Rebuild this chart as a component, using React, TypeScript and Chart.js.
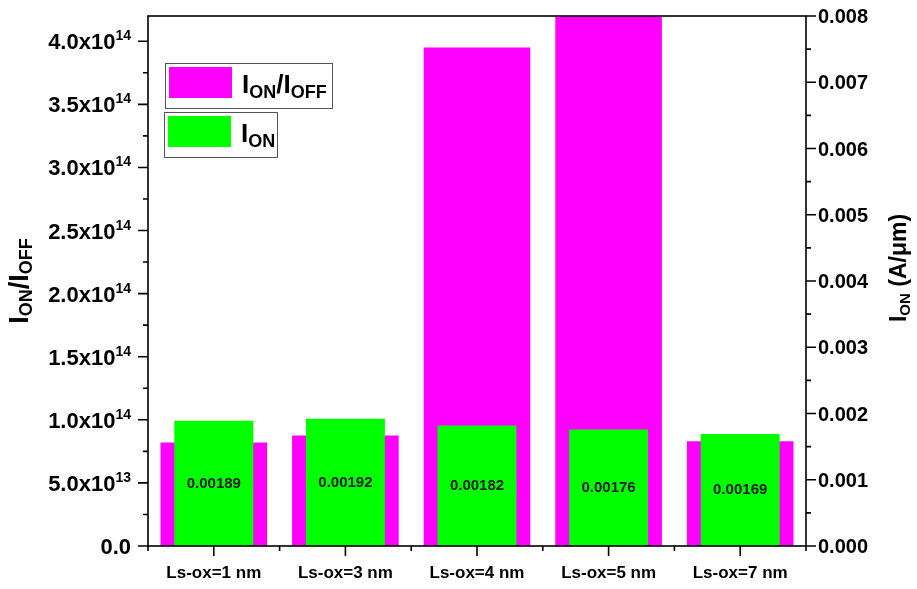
import React, { useEffect, useRef } from "react";
import { Chart, registerables } from "chart.js";

Chart.register(...registerables);

const categories = ["Ls-ox=1 nm", "Ls-ox=3 nm", "Ls-ox=4 nm", "Ls-ox=5 nm", "Ls-ox=7 nm"];
const ionIoffRatio = [8.2e13, 8.75e13, 3.95e14, 4.5e14, 8.3e13];
const ionCurrent = [0.00189, 0.00192, 0.00182, 0.00176, 0.00169];
const leftTicks = [0, 5e13, 1e14, 1.5e14, 2e14, 2.5e14, 3e14, 3.5e14, 4e14];
const rightTicks = [0, 0.001, 0.002, 0.003, 0.004, 0.005, 0.006, 0.007, 0.008];

const FAMILY = '"Liberation Sans", Arial, Helvetica, sans-serif';
const MAGENTA = "#ff00ff";
const GREEN = "#00ff00";

type Seg = { t: string; s: number; dy: number };

function drawRich(
  ctx: CanvasRenderingContext2D,
  segs: Seg[],
  x: number,
  y: number,
  align: "left" | "right" | "center",
  rot = 0,
  color = "#000"
) {
  ctx.save();
  ctx.translate(x, y);
  ctx.rotate(rot);
  ctx.fillStyle = color;
  ctx.textBaseline = "alphabetic";
  ctx.textAlign = "left";
  const widths = segs.map((sg) => {
    ctx.font = `bold ${sg.s}px ${FAMILY}`;
    return ctx.measureText(sg.t).width;
  });
  const total = widths.reduce((a, b) => a + b, 0);
  let cx = align === "right" ? -total : align === "center" ? -total / 2 : 0;
  segs.forEach((sg, i) => {
    ctx.font = `bold ${sg.s}px ${FAMILY}`;
    ctx.fillText(sg.t, cx, sg.dy);
    cx += widths[i];
  });
  ctx.restore();
}

function sciLabel(v: number): Seg[] {
  if (v === 0) return [{ t: "0.0", s: 22, dy: 0 }];
  const e = Math.floor(Math.log10(v) + 1e-9);
  const m = v / Math.pow(10, e);
  return [
    { t: m.toFixed(1) + "x10", s: 22, dy: 0 },
    { t: String(e), s: 14, dy: -9 },
  ];
}

const legendSegs: Seg[][] = [
  [
    { t: "I", s: 26, dy: 0 },
    { t: "ON", s: 18, dy: 5 },
    { t: "/I", s: 26, dy: 0 },
    { t: "OFF", s: 18, dy: 5 },
  ],
  [
    { t: "I", s: 26, dy: 0 },
    { t: "ON", s: 18, dy: 5 },
  ],
];

const overlayPlugin = {
  id: "overlay",
  afterDraw(chart: any) {
    const ctx: CanvasRenderingContext2D = chart.ctx;
    const area = chart.chartArea;
    const xs = chart.scales.x;
    const yl = chart.scales.y;
    const yr = chart.scales.y2;

    ctx.save();
    ctx.strokeStyle = "#000";
    ctx.lineWidth = 1.6;
    ctx.strokeRect(area.left, area.top, area.right - area.left, area.bottom - area.top);

    // left ticks
    ctx.beginPath();
    leftTicks.forEach((v, i) => {
      const py = yl.getPixelForValue(v);
      ctx.moveTo(area.left, py);
      ctx.lineTo(area.left - 10, py);
      if (i < leftTicks.length - 1) {
        const mv = (v + leftTicks[i + 1]) / 2;
        const my = yl.getPixelForValue(mv);
        ctx.moveTo(area.left, my);
        ctx.lineTo(area.left - 5, my);
      }
    });
    // right ticks
    rightTicks.forEach((v, i) => {
      const py = yr.getPixelForValue(v);
      ctx.moveTo(area.right, py);
      ctx.lineTo(area.right + 10, py);
      if (i < rightTicks.length - 1) {
        const mv = (v + rightTicks[i + 1]) / 2;
        const my = yr.getPixelForValue(mv);
        ctx.moveTo(area.right, my);
        ctx.lineTo(area.right + 5, my);
      }
    });
    // x ticks
    categories.forEach((c, i) => {
      const px = xs.getPixelForValue(i);
      ctx.moveTo(px, area.bottom);
      ctx.lineTo(px, area.bottom + 10);
    });
    for (let i = 0; i <= categories.length; i++) {
      const px = xs.getPixelForValue(i - 0.5);
      ctx.moveTo(px, area.bottom);
      ctx.lineTo(px, area.bottom + 5);
    }
    ctx.stroke();
    ctx.restore();

    // left tick labels
    leftTicks.forEach((v) => {
      const py = yl.getPixelForValue(v);
      drawRich(ctx, sciLabel(v), area.left - 17, py + 8, "right");
    });
    // right tick labels
    rightTicks.forEach((v) => {
      const py = yr.getPixelForValue(v);
      drawRich(ctx, [{ t: v.toFixed(3), s: 20, dy: 0 }], area.right + 12, py + 7, "left");
    });
    // x labels
    categories.forEach((c, i) => {
      const px = xs.getPixelForValue(i);
      drawRich(ctx, [{ t: c, s: 17, dy: 0 }], px, area.bottom + 32, "center");
    });

    // axis titles
    const midY = (area.top + area.bottom) / 2;
    drawRich(
      ctx,
      [
        { t: "I", s: 27, dy: 0 },
        { t: "ON", s: 18, dy: 4 },
        { t: "/I", s: 27, dy: 0 },
        { t: "OFF", s: 18, dy: 4 },
      ],
      28,
      midY,
      "center",
      -Math.PI / 2
    );
    drawRich(
      ctx,
      [
        { t: "I", s: 23, dy: 0 },
        { t: "ON", s: 15, dy: 4 },
        { t: " (A/\u03bcm)", s: 23, dy: 0 },
      ],
      906,
      midY - 13,
      "center",
      -Math.PI / 2
    );

    // data labels in green bars
    const meta = chart.getDatasetMeta(1);
    meta.data.forEach((el: any, i: number) => {
      const cy = (el.y + el.base) / 2;
      ctx.save();
      ctx.font = `bold 15px ${FAMILY}`;
      ctx.fillStyle = "#1a1a1a";
      ctx.textAlign = "center";
      ctx.textBaseline = "middle";
      ctx.fillText(ionCurrent[i].toFixed(5), el.x, cy);
      ctx.restore();
    });

    // legend
    const boxes = [
      { x: 165, y: 63, w: 167, h: 45 },
      { x: 164, y: 112, w: 113, h: 45 },
    ];
    chart.data.datasets.forEach((ds: any, i: number) => {
      const b = boxes[i];
      ctx.save();
      ctx.fillStyle = "#fff";
      ctx.fillRect(b.x, b.y, b.w, b.h);
      ctx.strokeStyle = "#555";
      ctx.lineWidth = 1;
      ctx.strokeRect(b.x + 0.5, b.y + 0.5, b.w, b.h);
      ctx.fillStyle = ds.backgroundColor;
      ctx.fillRect(b.x + 4, b.y + 4, 63, 31);
      ctx.restore();
      drawRich(ctx, legendSegs[i], b.x + 77, b.y + 30, "left");
    });
  },
};

export default function App() {
  const ref = useRef<HTMLCanvasElement | null>(null);
  useEffect(() => {
    if (!ref.current) return;
    const chart = new Chart(ref.current, {
      type: "bar",
      data: {
        labels: categories,
        datasets: [
          {
            label: "ION/IOFF",
            data: ionIoffRatio,
            backgroundColor: MAGENTA,
            yAxisID: "y",
            grouped: false,
            barPercentage: 0.81,
            categoryPercentage: 1,
            order: 1,
            borderWidth: 0,
          } as any,
          {
            label: "ION",
            data: ionCurrent,
            backgroundColor: GREEN,
            yAxisID: "y2",
            grouped: false,
            barPercentage: 0.6,
            categoryPercentage: 1,
            order: 0,
            borderWidth: 0,
          } as any,
        ],
      },
      options: {
        animation: false,
        responsive: false,
        layout: { padding: { top: 16, left: 0, right: 0, bottom: 0 } },
        plugins: { legend: { display: false }, tooltip: { enabled: false } },
        scales: {
          x: {
            type: "category",
            offset: true,
            grid: { display: false },
            border: { display: false },
            ticks: { display: false },
            afterFit: (s: any) => {
              s.height = 43;
            },
          },
          y: {
            position: "left",
            min: 0,
            max: 4.2e14,
            grid: { display: false },
            border: { display: false },
            ticks: { display: false },
            afterFit: (s: any) => {
              s.width = 148;
            },
          },
          y2: {
            position: "right",
            min: 0,
            max: 0.008,
            grid: { display: false },
            border: { display: false },
            ticks: { display: false },
            afterFit: (s: any) => {
              s.width = 111;
            },
          },
        },
      } as any,
      plugins: [overlayPlugin],
    });
    return () => chart.destroy();
  }, []);
  return (
    <div style={{ position: "fixed", left: 0, top: 0, width: 917, height: 589, background: "#fff" }}>
      <canvas ref={ref} width={917} height={589} style={{ display: "block" }} />
    </div>
  );
}
